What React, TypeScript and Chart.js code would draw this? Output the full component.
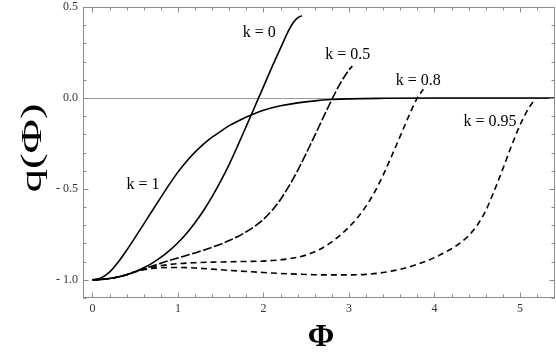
import React, { useEffect, useRef } from "react";
import { Chart, registerables } from "chart.js";

Chart.register(...registerables);

// ---- data ----
const K0_PHI = [0, 0.1, 0.2, 0.3, 0.4, 0.5, 0.6, 0.7, 0.8, 0.9, 1.0, 1.1, 1.2, 1.3, 1.4, 1.5, 1.6, 1.7, 1.8, 1.9, 2.0, 2.1, 2.2, 2.3, 2.35, 2.4, 2.45];
const K0_Q = [-1, -0.998, -0.993, -0.985, -0.972, -0.955, -0.934, -0.908, -0.877, -0.84, -0.796, -0.745, -0.686, -0.619, -0.543, -0.458, -0.365, -0.262, -0.155, -0.047, 0.061, 0.17, 0.274, 0.375, 0.415, 0.44, 0.452];

const K1_PHI = [0, 0.1, 0.2, 0.3, 0.4, 0.5, 0.6, 0.7, 0.8, 0.9, 1.0, 1.1, 1.2, 1.3, 1.4, 1.5, 1.6, 1.7, 1.8, 1.9, 2.0, 2.1, 2.2, 2.4, 2.6, 2.8, 3.0, 3.4, 4.0, 5.41];
const K1_Q = [-1, -0.99, -0.958, -0.904, -0.838, -0.767, -0.694, -0.62, -0.547, -0.475, -0.408, -0.349, -0.298, -0.254, -0.216, -0.184, -0.152, -0.128, -0.105, -0.085, -0.068, -0.054, -0.043, -0.027, -0.016, -0.009, -0.005, -0.002, -0.0005, 0];

const K05_PHI = [0, 0.1, 0.2, 0.3, 0.4, 0.5, 0.6, 0.7, 0.8, 0.9, 1.0, 1.1, 1.2, 1.3, 1.4, 1.5, 1.6, 1.7, 1.8, 1.9, 2.0, 2.1, 2.2, 2.3, 2.4, 2.5, 2.6, 2.7, 2.8, 2.9, 3.0, 3.04];
const K05_Q = [-1, -0.998, -0.993, -0.985, -0.972, -0.955, -0.939, -0.924, -0.909, -0.894, -0.88, -0.866, -0.852, -0.837, -0.821, -0.804, -0.784, -0.762, -0.736, -0.705, -0.668, -0.619, -0.558, -0.484, -0.399, -0.305, -0.207, -0.107, -0.009, 0.081, 0.154, 0.175];

const K08_PHI = [0, 0.1, 0.2, 0.3, 0.4, 0.5, 0.6, 0.7, 0.8, 0.9, 1.0, 1.2, 1.4, 1.6, 1.8, 2.0, 2.1, 2.2, 2.3, 2.4, 2.5, 2.6, 2.7, 2.8, 2.9, 3.0, 3.1, 3.2, 3.3, 3.4, 3.5, 3.6, 3.7, 3.8, 3.87];
const K08_Q = [-1, -0.998, -0.993, -0.985, -0.972, -0.956, -0.942, -0.931, -0.922, -0.916, -0.911, -0.906, -0.903, -0.901, -0.899, -0.897, -0.894, -0.89, -0.884, -0.876, -0.864, -0.846, -0.822, -0.791, -0.754, -0.71, -0.659, -0.595, -0.518, -0.424, -0.319, -0.21, -0.1, 0.0, 0.048];

const K095_PHI = [0, 0.1, 0.2, 0.3, 0.4, 0.5, 0.6, 0.7, 0.8, 0.9, 1.0, 1.2, 1.4, 1.6, 1.8, 2.0, 2.2, 2.4, 2.6, 2.8, 3.0, 3.2, 3.4, 3.6, 3.8, 4.0, 4.2, 4.3, 4.4, 4.5, 4.6, 4.7, 4.8, 4.9, 5.0, 5.1, 5.19];
const K095_Q = [-1, -0.998, -0.993, -0.985, -0.972, -0.956, -0.945, -0.938, -0.934, -0.932, -0.932, -0.935, -0.941, -0.948, -0.954, -0.96, -0.965, -0.969, -0.972, -0.973, -0.973, -0.97, -0.96, -0.942, -0.915, -0.878, -0.829, -0.798, -0.757, -0.7, -0.62, -0.51, -0.39, -0.265, -0.15, -0.058, 0];

const X_TICKS = [0, 1, 2, 3, 4, 5];
const Y_TICKS = [-1, -0.5, 0, 0.5];
const X_MIN = -0.11;
const X_MAX = 5.41;
const Y_MIN = -1.1;
const Y_MAX = 0.5;

const CURVE_LABELS = ["k = 0", "k = 0.5", "k = 0.8", "k = 0.95", "k = 1"];
const LABEL_PHI = [1.95, 2.985, 3.81, 4.65, 0.593];
const LABEL_Q = [0.356, 0.236, 0.093, -0.129, -0.477];

const toPts = (xs: number[], ys: number[]) => xs.map((x, i) => ({ x, y: ys[i] }));

const fmtY = (v: number) => (v < 0 ? "- " + Math.abs(v).toFixed(1) : v.toFixed(1));

const SERIF = "'Liberation Serif', 'DejaVu Serif', serif";

const framePlugin = {
  id: "framePlugin",
  beforeDatasetsDraw(chart: any) {
    const { ctx, chartArea: a, scales } = chart;
    const y0 = scales.y.getPixelForValue(0);
    ctx.save();
    ctx.strokeStyle = "#9a9a9a";
    ctx.lineWidth = 1;
    ctx.beginPath();
    ctx.moveTo(a.left, Math.round(y0) + 0.5);
    ctx.lineTo(a.right, Math.round(y0) + 0.5);
    ctx.stroke();
    ctx.restore();
  },
  afterDatasetsDraw(chart: any) {
    const { ctx, chartArea: a, scales } = chart;
    const xs = scales.x;
    const ys = scales.y;
    ctx.save();
    ctx.strokeStyle = "#8c8c8c";
    ctx.lineWidth = 1;
    const L = Math.round(a.left) + 0.5;
    const R = Math.round(a.right) - 0.5;
    const T = Math.round(a.top) + 0.5;
    const B = Math.round(a.bottom) - 0.5;
    ctx.strokeRect(L, T, R - L, B - T);
    ctx.beginPath();
    for (let i = 0; i <= 27; i++) {
      const v = i * 0.2;
      if (v > X_MAX) break;
      const major = Math.abs(v - Math.round(v)) < 1e-6;
      const len = major ? 5 : 3;
      const px = Math.round(xs.getPixelForValue(v)) + 0.5;
      ctx.moveTo(px, B);
      ctx.lineTo(px, B - len);
      ctx.moveTo(px, T);
      ctx.lineTo(px, T + len);
    }
    for (let i = -11; i <= 5; i++) {
      const v = i * 0.1;
      const major = i % 5 === 0;
      const len = major ? 5 : 3;
      const py = Math.round(ys.getPixelForValue(v)) + 0.5;
      ctx.moveTo(L, py);
      ctx.lineTo(L + len, py);
      ctx.moveTo(R, py);
      ctx.lineTo(R - len, py);
    }
    ctx.stroke();
    ctx.restore();
  },
  afterDraw(chart: any) {
    const { ctx, scales } = chart;
    ctx.save();
    ctx.fillStyle = "#000";
    ctx.textAlign = "center";
    ctx.textBaseline = "middle";
    ctx.font = "16px " + SERIF;
    CURVE_LABELS.forEach((t, i) => {
      ctx.fillText(t, scales.x.getPixelForValue(LABEL_PHI[i]), scales.y.getPixelForValue(LABEL_Q[i]));
    });
    // x axis title
    ctx.font = "bold 32px " + SERIF;
    ctx.fillText("Φ", 321, 338);
    // y axis title
    ctx.save();
    ctx.translate(33, 148);
    ctx.rotate(-Math.PI / 2);
    ctx.scale(1, 0.62);
    ctx.font = "47px " + SERIF;
    ctx.fillText("q(Φ)", 0, 0);
    ctx.restore();
    ctx.restore();
  },
};

export default function App() {
  const ref = useRef<HTMLCanvasElement | null>(null);
  useEffect(() => {
    document.body.style.margin = "0";
    if (!ref.current) return;
    const common = {
      borderColor: "#000",
      borderWidth: 1.6,
      pointRadius: 0,
      fill: false,
      cubicInterpolationMode: "monotone" as const,
    };
    const chart = new Chart(ref.current, {
      type: "line",
      data: {
        datasets: [
          { ...common, label: "k = 1", data: toPts(K1_PHI, K1_Q) },
          { ...common, label: "k = 0", data: toPts(K0_PHI, K0_Q) },
          { ...common, label: "k = 0.5", data: toPts(K05_PHI, K05_Q), borderDash: [9, 2.5] },
          { ...common, label: "k = 0.8", data: toPts(K08_PHI, K08_Q), borderDash: [6, 4] },
          { ...common, label: "k = 0.95", data: toPts(K095_PHI, K095_Q), borderDash: [6, 4] },
        ],
      },
      options: {
        animation: false,
        responsive: false,
        layout: { padding: { left: 0, right: 1, top: 7, bottom: 0 } },
        plugins: { legend: { display: false }, tooltip: { enabled: false } },
        scales: {
          x: {
            type: "linear",
            min: X_MIN,
            max: X_MAX,
            grid: { display: false, drawTicks: false },
            border: { display: false },
            afterBuildTicks: (s: any) => {
              s.ticks = X_TICKS.map((v) => ({ value: v }));
            },
            afterFit: (s: any) => {
              s.height = 62;
              s.paddingLeft = 0;
              s.paddingRight = 0;
            },
            ticks: {
              padding: 4,
              maxRotation: 0,
              autoSkip: false,
              color: "#333",
              font: { family: SERIF, size: 12 },
              callback: (v: any) => String(v),
            },
          },
          y: {
            type: "linear",
            min: Y_MIN,
            max: Y_MAX,
            grid: { display: false, drawTicks: false },
            border: { display: false },
            afterBuildTicks: (s: any) => {
              s.ticks = Y_TICKS.map((v) => ({ value: v }));
            },
            afterFit: (s: any) => {
              s.width = 83;
              s.paddingTop = 0;
              s.paddingBottom = 0;
            },
            ticks: {
              padding: 5,
              autoSkip: false,
              color: "#333",
              font: { family: SERIF, size: 12 },
              callback: (v: any) => fmtY(Number(v)),
            },
          },
        },
      },
      plugins: [framePlugin],
    });
    return () => chart.destroy();
  }, []);
  return (
    <div style={{ width: 556, height: 360 }}>
      <canvas ref={ref} width={556} height={360} style={{ display: "block" }} />
    </div>
  );
}
